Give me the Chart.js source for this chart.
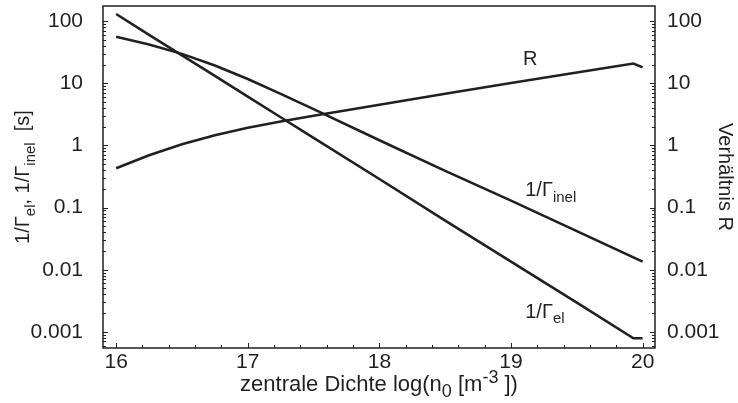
<!DOCTYPE html>
<html><head><meta charset="utf-8">
<script src="https://cdn.jsdelivr.net/npm/chart.js@4/dist/chart.umd.min.js"></script>
<style>html,body{margin:0;padding:0;background:#fff}#wrap{width:738px;height:403px;position:relative}</style>
</head><body><div id="wrap"><canvas id="c" width="738" height="403"></canvas></div>
<script>
// central density log10(n0 [m^-3])
const density = [16, 16.25, 16.5, 16.75, 17, 17.25, 17.5, 18, 18.5, 19, 19.5, 19.93, 20];
// 1/Gamma_el [s]
const invGammaEl = [130, 60, 28.2, 13.1, 6.1, 2.84, 1.32, 0.288, 0.0617, 0.0135, 0.00295, 0.00079, 0.00079];
// 1/Gamma_inel [s]
const invGammaInel = [56, 42, 29.7, 19.3, 11.7, 6.76, 3.83, 1.21, 0.389, 0.129, 0.0417, 0.0158, 0.0135];
// ratio R
const ratioR = [0.43, 0.692, 1.047, 1.462, 1.928, 2.427, 3.0, 4.52, 6.76, 10.12, 14.9, 20.8, 18.0];

const xTickValues = [16, 17, 18, 19, 20];
const xTickLabels = ['16', '17', '18', '19', '20'];
const yTickValues = [0.001, 0.01, 0.1, 1, 10, 100];
const yTickLabels = ['0.001', '0.01', '0.1', '1', '10', '100'];

const INK = '#231f20';
const FONT = '"Liberation Sans", Arial, sans-serif';

function pts(ys) { return density.map((x, i) => ({ x: x, y: ys[i] })); }

function richText(ctx, segs, size, align, subScale) {
  const small = Math.round(size * (subScale || 0.74));
  let w = 0;
  segs.forEach(s => { ctx.font = (s.mode ? small : size) + 'px ' + FONT; s.w = ctx.measureText(s.t).width; w += s.w; });
  let x = align === 'left' ? 0 : -w / 2;
  segs.forEach(s => {
    ctx.font = (s.mode ? small : size) + 'px ' + FONT;
    const dy = s.mode === 'sub' ? size * 0.28 : (s.mode === 'sup' ? -size * 0.38 : 0);
    ctx.fillText(s.t, x, dy);
    x += s.w;
  });
}

const decorPlugin = {
  id: 'decor',
  afterDraw(chart) {
    const ctx = chart.ctx, a = chart.chartArea;
    const sx = chart.scales.x, sy = chart.scales.y, sy2 = chart.scales.y2;
    ctx.save();
    ctx.strokeStyle = INK; ctx.fillStyle = INK;
    ctx.lineWidth = 1.5;
    ctx.strokeRect(a.left, a.top, a.right - a.left, a.bottom - a.top);
    ctx.lineWidth = 1;
    ctx.beginPath();
    for (let k = 0; k <= 20; k++) {
      const v = 16 + k * 0.2;
      const px = Math.round(sx.getPixelForValue(v)) + 0.5;
      const len = (k % 5 === 0) ? 5 : 3;
      ctx.moveTo(px, a.bottom); ctx.lineTo(px, a.bottom - len);
    }
    for (let e = -4; e <= 2; e++) {
      for (let m = 1; m <= 9; m++) {
        const v = m * Math.pow(10, e);
        if (v < sy.min || v > sy.max) continue;
        const len = m === 1 ? 5 : 3;
        const py = Math.round(sy.getPixelForValue(v)) + 0.5;
        ctx.moveTo(a.left, py); ctx.lineTo(a.left + len, py);
        const py2 = Math.round(sy2.getPixelForValue(v)) + 0.5;
        ctx.moveTo(a.right, py2); ctx.lineTo(a.right - len, py2);
      }
    }
    ctx.stroke();

    ctx.textBaseline = 'alphabetic';
    ctx.save();
    ctx.translate((a.left + a.right) / 2, 391);
    richText(ctx, [{ t: 'zentrale Dichte log(n' }, { t: '0', mode: 'sub' }, { t: ' [m' }, { t: '-3', mode: 'sup' }, { t: ' ])' }], 22, 'center', 0.8);
    ctx.restore();
    ctx.save();
    ctx.translate(29, (a.top + a.bottom) / 2);
    ctx.rotate(-Math.PI / 2);
    richText(ctx, [{ t: '1/\u0393' }, { t: 'el', mode: 'sub' }, { t: ', 1/\u0393' }, { t: 'inel', mode: 'sub' }, { t: '  [s]' }], 20);
    ctx.restore();
    ctx.save();
    ctx.translate(719, (a.top + a.bottom) / 2);
    ctx.rotate(Math.PI / 2);
    richText(ctx, [{ t: 'Verh\u00e4ltnis R' }], 20);
    ctx.restore();

    const lab = (x, y, scale, segs, align) => {
      ctx.save();
      ctx.translate(sx.getPixelForValue(x), scale.getPixelForValue(y));
      richText(ctx, segs, 20, align);
      ctx.restore();
    };
    lab(19.146, 19.6, sy2, [{ t: 'R' }]);
    lab(19.108, 0.153, sy, [{ t: '1/\u0393' }, { t: 'inel', mode: 'sub' }], 'left');
    lab(19.108, 0.00168, sy, [{ t: '1/\u0393' }, { t: 'el', mode: 'sub' }], 'left');
    ctx.restore();
  }
};

const logAxis = (pos, width, pad) => ({
  type: 'logarithmic',
  position: pos,
  min: 0.00055,
  max: 175,
  afterBuildTicks: s => { s.ticks = yTickValues.map(v => ({ value: v })); },
  afterFit: s => { s.width = width; s.paddingTop = 0; s.paddingBottom = 0; },
  grid: { display: false, drawTicks: false },
  border: { display: false },
  ticks: {
    padding: pad,
    color: INK,
    font: { family: FONT, size: 21 },
    callback: (v) => { const i = yTickValues.indexOf(v); return i >= 0 ? yTickLabels[i] : ''; }
  }
});

const lineStyle = { borderColor: INK, borderWidth: 2.6, pointRadius: 0, fill: false, tension: 0 };

new Chart(document.getElementById('c'), {
  type: 'line',
  data: {
    datasets: [
      Object.assign({ label: '1/Γel', data: pts(invGammaEl), yAxisID: 'y' }, lineStyle),
      Object.assign({ label: '1/Γinel', data: pts(invGammaInel), yAxisID: 'y' }, lineStyle),
      Object.assign({ label: 'R', data: pts(ratioR), yAxisID: 'y2' }, lineStyle)
    ]
  },
  options: {
    responsive: false,
    animation: false,
    devicePixelRatio: 1,
    layout: { padding: { top: 6, left: 0, right: 0, bottom: 0 } },
    plugins: { legend: { display: false }, tooltip: { enabled: false }, title: { display: false } },
    scales: {
      x: {
        type: 'linear',
        min: 15.9,
        max: 20.094,
        afterBuildTicks: s => { s.ticks = xTickValues.map(v => ({ value: v })); },
        afterFit: s => { s.height = 55; s.paddingLeft = 0; s.paddingRight = 0; },
        grid: { display: false, drawTicks: false },
        border: { display: false },
        ticks: {
          padding: 2,
          color: INK,
          font: { family: FONT, size: 21 },
          callback: (v) => { const i = xTickValues.indexOf(v); return i >= 0 ? xTickLabels[i] : ''; }
        }
      },
      y: logAxis('left', 103, 20),
      y2: logAxis('right', 83, 12)
    }
  },
  plugins: [decorPlugin]
});
</script>
</body></html>
